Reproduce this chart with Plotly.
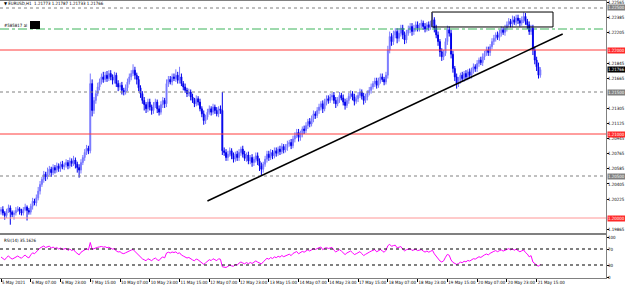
import plotly.graph_objects as go

# ---------------- data ----------------
CLOSE = [
 1.2010,1.2006,1.2003,1.2008,1.2012,1.2007,1.2004,1.2006,1.2009,1.2011,1.2008,1.2006,1.2010,1.2013,1.2009,1.2007,
 1.2014,1.2020,1.2018,1.2024,1.2032,1.2040,1.2046,1.2052,1.2049,1.2055,1.2058,1.2054,1.2060,1.2057,1.2062,1.2059,
 1.2064,1.2061,1.2063,1.2066,1.2062,1.2068,1.2065,1.2069,1.2064,1.2060,1.2057,1.2066,1.2072,1.2078,1.2083,1.2080,
 1.2160,1.2128,1.2140,1.2148,1.2156,1.2162,1.2168,1.2165,1.2170,1.2166,1.2172,1.2168,1.2164,1.2170,1.2160,1.2156,
 1.2158,1.2152,1.2150,1.2155,1.2162,1.2168,1.2172,1.2176,1.2170,1.2165,1.2155,1.2148,1.2140,1.2135,1.2130,1.2138,
 1.2132,1.2128,1.2134,1.2138,1.2130,1.2126,1.2135,1.2140,1.2136,1.2160,1.2165,1.2162,1.2168,1.2166,1.2170,1.2164,
 1.2168,1.2160,1.2156,1.2152,1.2148,1.2150,1.2144,1.2140,1.2136,1.2142,1.2138,1.2130,1.2124,1.2116,1.2120,1.2126,
 1.2130,1.2126,1.2132,1.2128,1.2124,1.2130,1.2128,1.2080,1.2078,1.2072,1.2076,1.2080,1.2074,1.2070,1.2076,1.2072,
 1.2078,1.2082,1.2076,1.2071,1.2075,1.2068,1.2072,1.2066,1.2070,1.2074,1.2068,1.2062,1.2058,1.2064,1.2070,1.2076,
 1.2072,1.2078,1.2074,1.2080,1.2077,1.2082,1.2079,1.2085,1.2081,1.2084,1.2088,1.2090,1.2086,1.2094,1.2098,1.2102,
 1.2096,1.2100,1.2106,1.2104,1.2110,1.2115,1.2112,1.2118,1.2124,1.2122,1.2128,1.2132,1.2136,1.2130,1.2138,1.2142,
 1.2140,1.2144,1.2146,1.2140,1.2136,1.2141,1.2146,1.2143,1.2138,1.2134,1.2140,1.2145,1.2148,1.2144,1.2139,1.2142,
 1.2146,1.2150,1.2145,1.2140,1.2144,1.2149,1.2152,1.2156,1.2160,1.2163,1.2158,1.2164,1.2168,1.2165,1.2162,1.2170,
 1.2200,1.2216,1.2210,1.2218,1.2222,1.2214,1.2220,1.2226,1.2218,1.2212,1.2220,1.2224,1.2228,1.2222,1.2226,1.2230,
 1.2226,1.2229,1.2232,1.2228,1.2225,1.2230,1.2227,1.2231,1.2236,1.2226,1.2218,1.2210,1.2198,1.2192,1.2196,1.2210,
 1.2224,1.2220,1.2195,1.2178,1.2168,1.2160,1.2164,1.2170,1.2166,1.2172,1.2168,1.2174,1.2170,1.2176,1.2180,1.2178,
 1.2184,1.2188,1.2185,1.2192,1.2196,1.2200,1.2197,1.2204,1.2210,1.2214,1.2218,1.2215,1.2220,1.2224,1.2221,1.2226,
 1.2230,1.2234,1.2231,1.2236,1.2233,1.2238,1.2235,1.2232,1.2236,1.2240,1.2234,1.2230,1.2222,1.2226,1.2200,1.2188,
 1.2180,1.2170,1.21766,
]
FIRST_OPEN = 1.2008
# upper / lower wick lengths in pips
HI_WICK = [
 3,4,2,3,4,3,2,3,4,3,2,3,3,4,2,3,
 3,4,3,4,5,4,3,4,3,5,4,3,4,3,4,3,
 3,4,3,4,3,4,3,5,3,3,4,4,3,4,4,3,
 12,5,4,4,5,4,4,6,4,5,4,4,3,4,3,4,
 3,4,3,4,4,4,4,7,4,3,4,3,3,4,3,4,
 4,3,4,4,3,4,4,4,3,5,4,4,4,4,7,4,
 12,4,3,4,3,4,3,4,3,4,3,4,3,4,3,4,
 4,3,4,3,4,3,4,22,4,4,4,4,3,4,3,4,
 4,3,4,4,3,4,3,4,3,4,4,3,4,3,4,4,
 4,4,3,4,4,3,4,4,3,4,4,3,4,4,4,4,
 4,4,3,4,4,3,4,4,4,3,4,4,3,4,4,4,
 4,4,3,4,4,3,4,3,4,4,3,4,4,3,4,4,
 4,4,3,4,4,3,4,4,3,4,4,3,4,4,3,4,
 5,6,4,5,4,4,6,4,4,4,4,5,4,4,4,4,
 4,3,4,3,4,3,4,4,8,3,4,4,3,4,4,4,
 5,4,4,4,3,4,4,3,4,3,4,3,4,3,4,3,
 4,3,4,4,3,4,4,3,4,4,3,4,4,4,3,4,
 4,4,3,5,4,4,4,3,4,5,4,3,4,4,4,4,
 4,5,3,
]
LO_WICK = [
 4,3,5,3,2,15,3,6,3,2,4,3,3,2,12,3,
 3,4,3,4,3,4,3,4,5,3,4,5,3,4,3,4,
 4,3,4,3,4,3,4,3,5,6,9,4,3,4,3,4,
 3,7,4,4,3,4,3,4,3,4,3,4,5,4,4,5,
 4,5,4,3,4,3,4,3,5,6,4,5,4,7,5,4,
 4,5,4,3,5,4,3,4,5,4,4,3,4,3,4,4,
 4,3,4,3,4,3,4,3,4,3,4,3,4,5,4,3,
 3,4,3,4,3,4,4,5,4,4,4,3,4,4,3,4,
 4,4,4,3,4,4,4,5,4,4,5,6,7,4,3,4,
 4,3,4,3,4,3,4,3,4,3,4,3,4,3,4,3,
 5,4,4,4,3,4,4,3,4,4,3,4,4,5,3,4,
 4,3,4,4,5,3,4,3,4,5,3,4,3,4,5,3,
 4,3,4,5,3,4,3,4,3,4,4,3,4,3,4,3,
 4,4,5,4,4,6,4,4,5,5,4,3,4,5,4,4,
 4,4,3,4,4,3,4,3,3,5,4,5,6,5,4,3,
 4,4,5,5,5,6,4,4,4,4,4,4,4,4,4,4,
 4,4,3,4,4,3,4,4,3,4,4,3,4,4,3,4,
 4,3,4,4,3,4,4,4,3,4,4,5,4,4,6,5,
 5,4,3,
]
TIME_LABELS = ["5 May 2021","6 May 07:00","6 May 23:00","7 May 15:00","10 May 07:00",
               "10 May 23:00","11 May 15:00","12 May 07:00","12 May 23:00","13 May 15:00",
               "14 May 07:00","14 May 23:00","17 May 15:00","18 May 07:00","18 May 23:00",
               "19 May 15:00","20 May 07:00","20 May 23:00","21 May 15:00"]
LABEL_STEP = 16
PRICE_TICKS = [1.22565,1.22385,1.22205,1.21845,1.21665,1.21305,1.21125,1.20945,
               1.20765,1.20585,1.20405,1.20225,1.19865]
RED_LEVELS = [1.22000, 1.21000, 1.20000]
GRAY_LEVELS = [1.22500, 1.21500, 1.20500]
GREEN_LEVEL = 1.22250
LAST_PRICE = 1.21766
TREND = [(111, 1.20202), (302, 1.22190)]
BOX = [(231.7, 1.22452), (296.8, 1.22274)]
RSI_LEVELS = [70, 30]
RSI_PERIOD = 14

# ---------------- derived ----------------
N = len(CLOSE)
X = list(range(N))
OPEN = [FIRST_OPEN] + CLOSE[:-1]
HIGH = [max(o, c) + w * 1e-4 for o, c, w in zip(OPEN, CLOSE, HI_WICK)]
LOW = [min(o, c) - w * 1e-4 for o, c, w in zip(OPEN, CLOSE, LO_WICK)]

# Wilder RSI (neutral seed for the history before the first bar)
diffs = [CLOSE[i] - CLOSE[i - 1] for i in range(1, N)]
seed = sum(abs(d) for d in diffs[:RSI_PERIOD]) / RSI_PERIOD / 2
ag = al = seed
rsi = [50.0]
for d in diffs:
    ag = (ag * (RSI_PERIOD - 1) + max(d, 0)) / RSI_PERIOD
    al = (al * (RSI_PERIOD - 1) + max(-d, 0)) / RSI_PERIOD
    rsi.append(100 - 100 / (1 + ag / al) if al > 0 else 100)

W, H = 625, 288
XR = 606 / W
def py(px):  # pixel row -> paper y
    return 1 - px / H

FONT = "Liberation Sans Narrow, DejaVu Sans Condensed, Liberation Sans"
FS = 4.4
fig = go.Figure()
fig.add_trace(go.Candlestick(
    x=X, open=OPEN, high=HIGH, low=LOW, close=CLOSE,
    increasing=dict(line=dict(color="rgb(120,120,255)", width=1), fillcolor="rgb(120,120,255)"),
    decreasing=dict(line=dict(color="rgb(0,0,235)", width=1), fillcolor="rgb(0,0,235)"),
    whiskerwidth=0, xaxis="x", yaxis="y", showlegend=False, hoverinfo="skip"))
fig.add_trace(go.Scatter(x=X, y=rsi, mode="lines", line=dict(color="rgb(255,0,255)", width=1),
                         xaxis="x2", yaxis="y2", showlegend=False, hoverinfo="skip"))

xr = [-0.54, 325.3]
yr = [1.22 - 183 / 8400, 1.22 + 49 / 8400]
AX = dict(showgrid=False, zeroline=False, showline=True, mirror=True, automargin=False,
          linecolor="rgb(128,128,128)", linewidth=1)
fig.update_layout(
    width=W, height=H, margin=dict(l=0, r=0, t=0, b=0, autoexpand=False),
    paper_bgcolor="white", plot_bgcolor="white",
    font=dict(family=FONT, size=FS, color="black"),
    xaxis=dict(domain=[0, XR], range=xr, anchor="y", showticklabels=False,
               rangeslider=dict(visible=False), **AX),
    yaxis=dict(domain=[py(233), py(1)], range=yr, side="right", anchor="x",
               tickvals=PRICE_TICKS, ticktext=[f"{v:.5f}" for v in PRICE_TICKS],
               ticks="outside", ticklen=2, tickcolor="black", tickfont=dict(size=FS),
               ticklabelstandoff=-2, **AX),
    xaxis2=dict(domain=[0, XR], range=xr, anchor="y2",
                tickvals=[i * LABEL_STEP for i in range(len(TIME_LABELS))], ticktext=TIME_LABELS,
                ticklabelposition="outside right", ticks="outside", ticklen=3, tickcolor="black",
                tickangle=0, tickfont=dict(size=FS), **AX),
    yaxis2=dict(domain=[py(278), py(235)], range=[-2.5, 105], side="right", anchor="x2",
                tickvals=[100, 70, 30, 0], ticktext=["100", "70", "30", "0"],
                ticks="outside", ticklen=2, tickcolor="black", tickfont=dict(size=FS),
                ticklabelstandoff=-2, **AX),
)

shapes = []
for lv in GRAY_LEVELS:
    shapes.append(dict(type="line", xref="x domain", yref="y", x0=0, x1=1, y0=lv, y1=lv,
                       line=dict(color="rgb(128,128,128)", width=1, dash="dot")))
for lv, col in zip(RED_LEVELS, ["rgb(255,60,60)", "rgb(255,60,60)", "rgb(255,150,150)"]):
    shapes.append(dict(type="line", xref="x domain", yref="y", x0=0, x1=1, y0=lv, y1=lv,
                       line=dict(color=col, width=1)))
shapes.append(dict(type="line", xref="x domain", yref="y", x0=0, x1=1, y0=GREEN_LEVEL, y1=GREEN_LEVEL,
                   line=dict(color="rgb(60,180,90)", width=1, dash="dashdot")))
shapes.append(dict(type="line", xref="x", yref="y", x0=TREND[0][0], y0=TREND[0][1],
                   x1=TREND[1][0], y1=TREND[1][1], line=dict(color="black", width=1.5)))
shapes.append(dict(type="rect", xref="x", yref="y", x0=BOX[0][0], y0=BOX[0][1],
                   x1=BOX[1][0], y1=BOX[1][1], line=dict(color="black", width=1)))
for lv in RSI_LEVELS:
    shapes.append(dict(type="line", xref="x2 domain", yref="y2", x0=0, x1=1, y0=lv, y1=lv,
                       line=dict(color="black", width=1, dash="dot")))
shapes.append(dict(type="rect", xref="paper", yref="paper", x0=30 / W, x1=40 / W,
                   y0=py(29), y1=py(21), fillcolor="black", line=dict(width=0)))
fig.update_layout(shapes=shapes)

ann = []
def price_box(v, bg, fg="white"):
    ann.append(dict(xref="paper", yref="y", x=XR + 1 / W, y=v, xanchor="left", yanchor="middle",
                    text=f"{v:.5f}", showarrow=False, bgcolor=bg, font=dict(color=fg, size=FS),
                    borderpad=0))
for lv in GRAY_LEVELS:
    price_box(lv, "rgb(128,128,128)")
for lv in RED_LEVELS:
    price_box(lv, "rgb(255,40,40)")
price_box(LAST_PRICE, "black")
ann.append(dict(xref="paper", yref="paper", x=2 / W, y=py(4), xanchor="left", yanchor="middle",
                text="▼ EURUSD,H1  1.21773 1.21787 1.21733 1.21766", showarrow=False,
                font=dict(size=FS)))
ann.append(dict(xref="paper", yref="paper", x=2 / W, y=py(25), xanchor="left", yanchor="middle",
                text="#585817 al", showarrow=False, font=dict(size=FS)))
ann.append(dict(xref="paper", yref="paper", x=2 / W, y=py(240), xanchor="left", yanchor="middle",
                text="RSI(14) 35.1626", showarrow=False, font=dict(size=FS)))
fig.update_layout(annotations=ann)

fig.write_html("out.html")
